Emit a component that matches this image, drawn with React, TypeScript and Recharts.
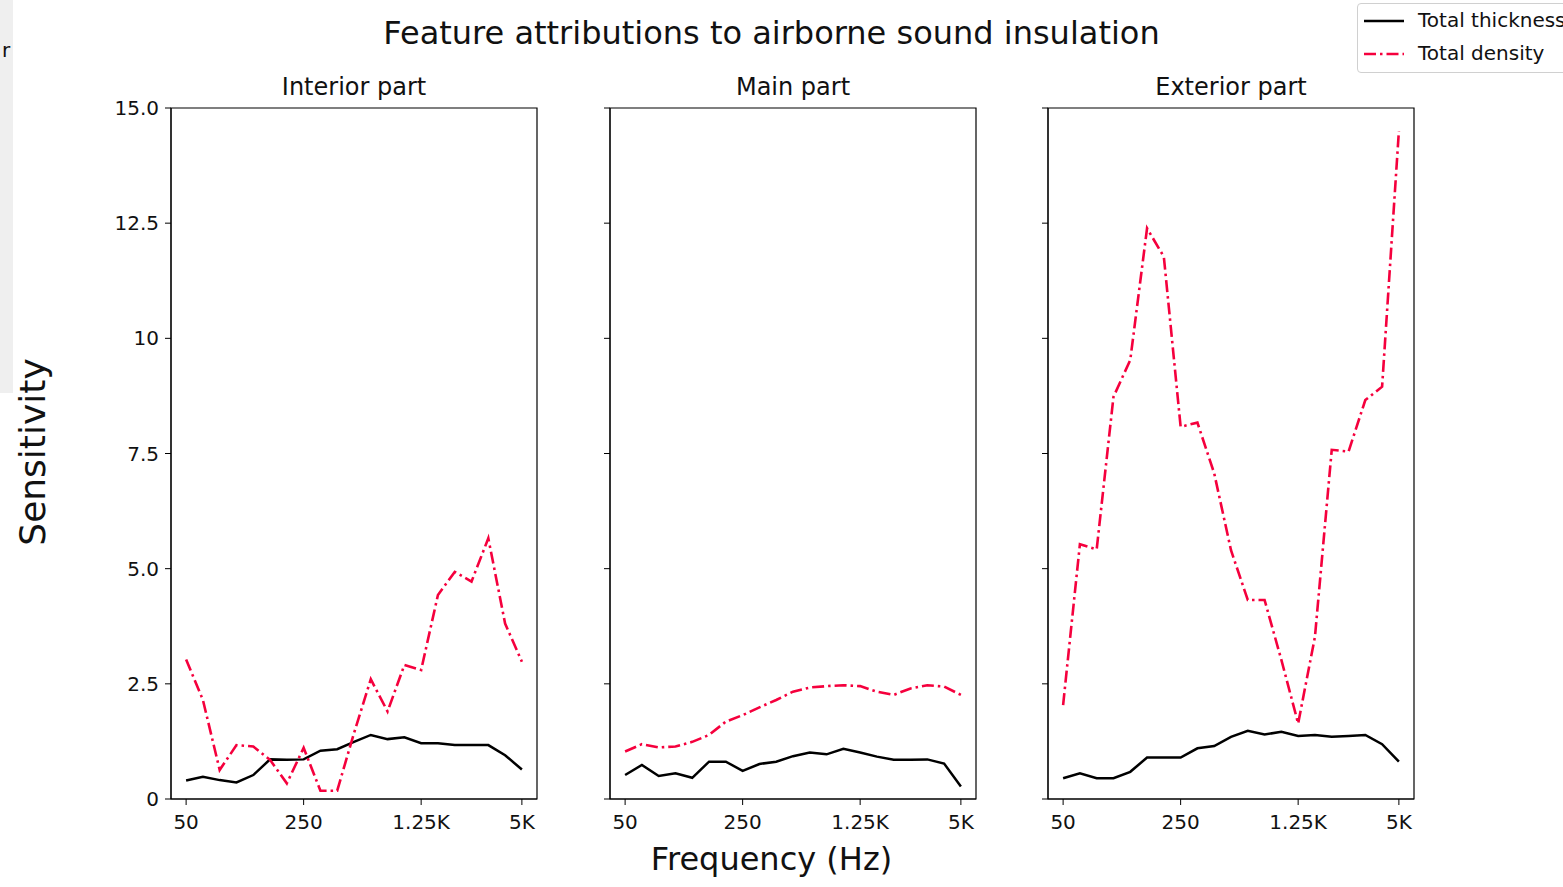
import React from "react";
import { LineChart, Line, XAxis, YAxis, ReferenceArea } from "recharts";

const freqLabels = [
  "50", "63", "80", "100", "125", "160", "200", "250", "315", "400", "500",
  "630", "800", "1K", "1.25K", "1.6K", "2K", "2.5K", "3.15K", "4K", "5K",
];
const xTicks = [0, 7, 14, 20];
const yTicks = [0, 2.5, 5, 7.5, 10, 12.5, 15];

const interiorThickness = [0.4, 0.48, 0.41, 0.36, 0.52, 0.86, 0.85, 0.86, 1.05, 1.08, 1.24, 1.39, 1.3, 1.34, 1.21, 1.21, 1.17, 1.17, 1.17, 0.95, 0.64];
const interiorDensity = [3.03, 2.15, 0.63, 1.17, 1.14, 0.85, 0.34, 1.11, 0.18, 0.18, 1.43, 2.6, 1.9, 2.91, 2.8, 4.43, 4.93, 4.72, 5.66, 3.81, 2.98];
const mainThickness = [0.52, 0.74, 0.5, 0.56, 0.46, 0.81, 0.81, 0.61, 0.76, 0.81, 0.93, 1.01, 0.97, 1.09, 1.01, 0.92, 0.85, 0.85, 0.86, 0.77, 0.27];
const mainDensity = [1.03, 1.19, 1.12, 1.14, 1.24, 1.39, 1.68, 1.82, 1.99, 2.15, 2.33, 2.42, 2.45, 2.47, 2.45, 2.33, 2.26, 2.4, 2.47, 2.44, 2.26];
const exteriorThickness = [0.45, 0.56, 0.45, 0.45, 0.59, 0.9, 0.9, 0.9, 1.1, 1.15, 1.35, 1.48, 1.4, 1.46, 1.37, 1.39, 1.35, 1.37, 1.39, 1.19, 0.81];
const exteriorDensity = [2.04, 5.53, 5.42, 8.73, 9.53, 12.39, 11.77, 8.08, 8.17, 7.07, 5.4, 4.32, 4.32, 3.02, 1.64, 3.52, 7.58, 7.54, 8.66, 8.95, 14.5];

const panels = [
  { title: "Interior part", left: 171, thickness: interiorThickness, density: interiorDensity, labels: true },
  { title: "Main part", left: 610, thickness: mainThickness, density: mainDensity, labels: false },
  { title: "Exterior part", left: 1048, thickness: exteriorThickness, density: exteriorDensity, labels: false },
];

const FONT = "'DejaVu Sans', sans-serif";
const RED = "#f5003d";
const DASH = "12 4 2.5 4";
const PLOT_W = 366;
const PLOT_TOP = 108;
const PLOT_H = 691;
const Y_AXIS_W = 60;
const X_AXIS_H = 50;

function fmtY(v: number) {
  if (v === 0) return "0";
  if (v === 10) return "10";
  return v.toFixed(1);
}

function Panel({ p }: { p: (typeof panels)[number] }) {
  const data = freqLabels.map((f, i) => ({ i, freq: f, thickness: p.thickness[i], density: p.density[i] }));
  return (
    <div style={{ position: "absolute", left: p.left - Y_AXIS_W, top: 0 }}>
      <LineChart
        width={Y_AXIS_W + PLOT_W + 10}
        height={PLOT_TOP + PLOT_H + X_AXIS_H}
        data={data}
        margin={{ top: PLOT_TOP, right: 10, bottom: 0, left: 0 }}
      >
        <XAxis
          type="number"
          dataKey="i"
          domain={[-0.9, 20.9]}
          ticks={xTicks}
          tickFormatter={(i: number) => freqLabels[i]}
          stroke="#000"
          tickSize={6}
          tickMargin={10}
          height={X_AXIS_H}
          tick={{ fill: "#111", fontSize: 20, fontFamily: FONT }}
        />
        <YAxis
          type="number"
          domain={[0, 15]}
          ticks={yTicks}
          tickFormatter={(v: number) => (p.labels ? fmtY(v) : "")}
          stroke="#000"
          tickSize={6}
          tickMargin={6}
          width={Y_AXIS_W}
          tick={{ fill: "#111", fontSize: 20, fontFamily: FONT }}
        />
        <ReferenceArea x1={-0.9} x2={20.9} y1={0} y2={15} fill="#fff" fillOpacity={0} stroke="#000" strokeWidth={1.2} />
        <Line dataKey="thickness" stroke="#000" strokeWidth={2.5} dot={false} isAnimationActive={false} />
        <Line dataKey="density" stroke={RED} strokeWidth={2.6} strokeDasharray={DASH} dot={false} isAnimationActive={false} />
      </LineChart>
      <div
        style={{
          position: "absolute",
          left: Y_AXIS_W,
          width: PLOT_W,
          top: 73,
          textAlign: "center",
          fontFamily: FONT,
          fontSize: 24,
          color: "#111",
        }}
      >
        {p.title}
      </div>
    </div>
  );
}

export default function App() {
  return (
    <div
      style={{
        position: "absolute",
        left: 0,
        top: 0,
        width: 1563,
        height: 887,
        overflow: "hidden",
        background: "#fff",
        fontFamily: FONT,
      }}
    >
      <div style={{ position: "absolute", left: 0, top: 0, width: 13, height: 393, background: "#efefef" }} />
      <div style={{ position: "absolute", left: 2, top: 38, fontSize: 20, color: "#111" }}>r</div>
      <div style={{ position: "absolute", left: 0, width: 1543, top: 14, textAlign: "center", fontSize: 32, color: "#111" }}>
        Feature attributions to airborne sound insulation
      </div>
      {panels.map((p) => (
        <Panel key={p.title} p={p} />
      ))}
      <div style={{ position: "absolute", left: 0, width: 1543, top: 840, textAlign: "center", fontSize: 32, color: "#111" }}>
        Frequency (Hz)
      </div>
      <div
        style={{
          position: "absolute",
          left: 32,
          top: 452,
          transform: "translate(-50%, -50%) rotate(-90deg)",
          fontSize: 36,
          color: "#111",
          whiteSpace: "nowrap",
        }}
      >
        Sensitivity
      </div>
      <div
        style={{
          position: "absolute",
          left: 1357,
          top: 3,
          width: 230,
          height: 68,
          border: "1px solid #d0d0d0",
          borderRadius: 4,
          background: "#fff",
          fontSize: 20,
          color: "#111",
        }}
      >
        <svg width={50} height={68} style={{ position: "absolute", left: 0, top: 0 }}>
          <line x1={6} x2={46} y1={17} y2={17} stroke="#000" strokeWidth={2.5} />
          <line x1={6} x2={46} y1={50} y2={50} stroke={RED} strokeWidth={2.6} strokeDasharray={DASH} />
        </svg>
        <div style={{ position: "absolute", left: 60, top: 4, whiteSpace: "nowrap" }}>Total thickness</div>
        <div style={{ position: "absolute", left: 60, top: 37, whiteSpace: "nowrap" }}>Total density</div>
      </div>
    </div>
  );
}
